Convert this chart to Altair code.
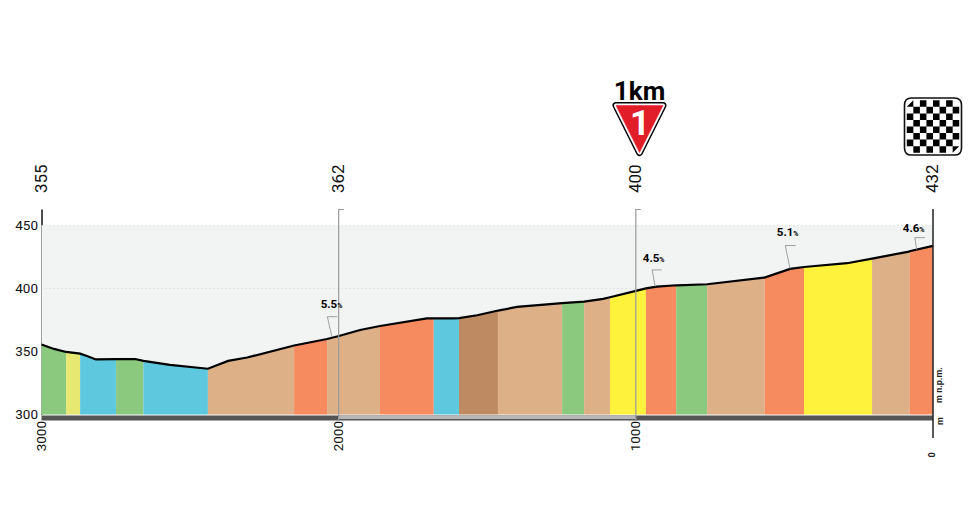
import altair as alt
import pandas as pd

FONT = "Roboto"

# Elevation profile
profile_d = [3000, 2958, 2917, 2870, 2847, 2817, 2749, 2685, 2657, 2568, 2440, 2372, 2308, 2150, 2039, 1999,
             1928, 1861, 1703, 1680, 1615, 1595, 1534, 1467, 1464, 1400, 1248, 1174, 1110, 1087, 996, 966, 929,
             864, 861, 760, 569, 567, 481, 434, 289, 205, 81, 79, 0]
profile_e = [355.5, 352, 349.6, 348.3, 346.4, 343.7, 344, 344, 342.5, 339.3, 336.3, 342.5, 345.2, 354.7, 359.9, 362.3,
             367, 370.2, 376.3, 376.3, 376.3, 376.5, 378.7, 382.3, 382.4, 385.3, 388.3, 389.5, 391.7, 393, 398.3, 400, 401.4,
             402.5, 402.5, 403.3, 408.6, 408.6, 415.5, 417, 420, 423.7, 429.2, 429.5, 433.7]

# Gradient segments (start distance, end distance, colour)
seg_start = [3000, 2917, 2870, 2749, 2657, 2440, 2150, 2039, 1861, 1680, 1595, 1464, 1248, 1174, 1087, 966, 864, 760, 567, 434, 205, 79]
seg_end = [2917, 2870, 2749, 2657, 2440, 2150, 2039, 1861, 1680, 1595, 1464, 1248, 1174, 1087, 966, 864, 760, 567, 434, 205, 79, 0]
seg_color = ["#8bc97f", "#e6e871", "#5ec8df", "#8bc97f", "#5ec8df", "#deb087", "#f68b5f", "#deb087", "#f68b5f", "#5ec8df",
             "#bd8a62", "#deb087", "#8bc97f", "#deb087", "#fff23c", "#f68b5f", "#8bc97f", "#deb087", "#f68b5f", "#fff23c",
             "#deb087", "#f68b5f"]

# Labels
y_ticks = [300, 350, 400, 450]
x_ticks = [3000, 2000, 1000]
top_d = [3000, 2000, 1000, 0]
top_label = ["355", "362", "400", "432"]
grade_d = [2005, 921, 470, 46]
grade_e = [386.9, 423.2, 443.8, 447.2]
grade_label = ["5.5", "4.5", "5.1", "4.6"]
leader_id = [0, 0, 0, 1, 1, 1, 2, 2, 2, 3, 3, 3]
leader_d = [2005, 2038, 2023, 913, 945, 935, 462, 497, 481, 27, 61, 55]
leader_e = [377.6, 377.6, 361.7, 414.7, 414.7, 401.4, 434, 434, 415.5, 440.3, 440.3, 430.6]

prof_df = pd.DataFrame({"d": profile_d, "e": profile_e})

xs = alt.Scale(domain=[3000, 0], nice=False)
ys = alt.Scale(domain=[300, 463], nice=False)
x_axis = alt.Axis(values=x_ticks, labelAngle=270, labelAlign="right", labelBaseline="middle",
                  labelFont=FONT, labelFontSize=13.5, labelColor="#111", labelPadding=6,
                  ticks=False, domain=False, grid=False, title=None, format="d", labelFlush=False,
                  labelOverlap=False)
y_axis = alt.Axis(values=y_ticks, labelFont=FONT, labelFontSize=13.5, labelColor="#111",
                  labelPadding=4, ticks=False, domainColor="#111", domainWidth=1.5,
                  grid=False, title=None)
X = lambda f="d": alt.X(f"{f}:Q", scale=xs, axis=x_axis)
Y = lambda f="e": alt.Y(f"{f}:Q", scale=ys, axis=y_axis)

H = 205.5

bg = alt.Chart(pd.DataFrame({"a": [3000], "b": [0], "y0": [300], "y1": [450]})).mark_rect(color="#f2f3f3").encode(
    x=X("a"), x2="b:Q", y=Y("y0"), y2="y1:Q")
grid = alt.Chart(pd.DataFrame({"y": [450, 400], "a": [3000, 3000], "b": [0, 0]})).mark_rule(
    color="#cfcfcf", strokeDash=[1, 3], strokeWidth=1).encode(x=X("a"), x2="b:Q", y=Y("y"))

areas = []
for a, b, c in zip(seg_start, seg_end, seg_color):
    pts = [(d, e) for d, e in zip(profile_d, profile_e) if b <= d <= a]
    seg = pd.DataFrame({"d": [p[0] for p in pts], "e": [p[1] for p in pts], "base": [300] * len(pts)})
    areas.append(alt.Chart(seg).mark_area(color=c, interpolate="linear", orient="vertical", opacity=1).encode(
        x=X(), y=alt.Y("e:Q", scale=ys, axis=y_axis, stack=None), y2="base:Q"))

line = alt.Chart(prof_df).mark_line(color="#000", strokeWidth=2.2, interpolate="linear").encode(x=X(), y=Y(), order="d:Q")

band = alt.Chart(pd.DataFrame({"a": [3000], "b": [0]})).mark_rect(color="#555").encode(
    x=X("a"), x2="b:Q", y=alt.value(H + 1), y2=alt.value(H + 6))
band_mid = alt.Chart(pd.DataFrame({"a": [2000], "b": [1000]})).mark_rect(color="#b8b8b8").encode(
    x=X("a"), x2="b:Q", y=alt.value(H + 1), y2=alt.value(H + 4.5))
vrules = alt.Chart(pd.DataFrame({"a": [2000, 1000]})).mark_rule(color="#9a9a9a", strokeWidth=1.2).encode(
    x=X("a"), y=alt.value(0), y2=alt.value(H + 6))
vticks = alt.Chart(pd.DataFrame({"a": [2000, 1000], "b": [1983, 983]})).mark_rule(color="#9a9a9a", strokeWidth=1).encode(
    x=X("a"), x2="b:Q", y=alt.value(0.5))
right = alt.Chart(pd.DataFrame({"a": [0]})).mark_rule(color="#222", strokeWidth=1.5).encode(
    x=X("a"), y=alt.value(0), y2=alt.value(229))

top = alt.Chart(pd.DataFrame({"d": top_d, "t": top_label})).mark_text(
    font=FONT, fontSize=17, angle=270, align="left", baseline="middle", color="#111").encode(
    x=X(), y=alt.value(-16), text="t:N")
g_num = alt.Chart(pd.DataFrame({"d": grade_d, "e": grade_e, "t": grade_label})).mark_text(
    font=FONT, fontSize=11.5, fontWeight="bold", align="right", baseline="middle", color="#000").encode(
    x=X(), y=Y(), text="t:N")
g_pct = alt.Chart(pd.DataFrame({"d": grade_d, "e": grade_e, "t": ["%"] * 4})).mark_text(
    font=FONT, fontSize=7, fontWeight="bold", align="left", baseline="middle", color="#000", dy=1).encode(
    x=X(), y=Y(), text="t:N")
leaders = alt.Chart(pd.DataFrame({"d": leader_d, "e": leader_e, "id": leader_id, "o": list(range(12))})).mark_line(
    color="#8a8a8a", strokeWidth=0.8).encode(x=X(), y=Y(), detail="id:N", order="o:Q")

notes = alt.Chart(pd.DataFrame({"px": [897.5, 898, 890.5], "py": [176, 212, 246], "t": ["m n.p.m.", "m", "0"]})).mark_text(
    font=FONT, fontSize=9, fontWeight="bold", angle=270, align="center", baseline="middle", color="#222").encode(
    x=alt.X("px:Q", scale=None), y=alt.Y("py:Q", scale=None), text="t:N")

# Icons: 1 km triangle
tri = "M-1,-1 L1,-1 L0,1 Z"
icon_x, icon_y = 598, -80
def tri_mark(fill, stroke, sw):
    return alt.Chart(pd.DataFrame({"k": [0]})).mark_point(
        shape=tri, size=2209, filled=True, fill=fill, stroke=stroke, strokeWidth=sw, strokeJoin="round", opacity=1
    ).encode(x=alt.value(icon_x), y=alt.value(icon_y))
icons = [tri_mark("#000", "#000", 7), tri_mark("#fff", "#fff", 4), tri_mark("#e11d2a", "#e11d2a", 0.5)]
km = alt.Chart(pd.DataFrame({"t": ["1km"]})).mark_text(
    font=FONT, fontSize=26, fontWeight="bold", align="center", baseline="alphabetic", color="#000").encode(
    x=alt.value(598), y=alt.value(-109.5), text="t:N")
one = alt.Chart(pd.DataFrame({"t": ["1"]})).mark_text(
    font=FONT, fontSize=35, fontWeight="bold", align="center", baseline="alphabetic", color="#fff").encode(
    x=alt.value(598.5), y=alt.value(-74), text="t:N")

# Icons: finish flag
N = 8
def cell_path():
    step = 1.84 / N
    parts = []
    for r in range(N):
        for c in range(N):
            if (r + c) % 2:
                continue
            x0, y0 = -0.92 + c * step, -0.92 + r * step
            x1, y1 = x0 + step, y0 + step
            if (r, c) == (0, 0):
                parts.append(f"M{x1:.3f},{y0:.3f} L{x1:.3f},{y1:.3f} L{x0:.3f},{y1:.3f} Z")
            elif (r, c) == (N - 1, N - 1):
                parts.append(f"M{x0:.3f},{y0:.3f} L{x1:.3f},{y0:.3f} L{x0:.3f},{y1:.3f} Z")
            else:
                parts.append(f"M{x0:.3f},{y0:.3f} L{x1:.3f},{y0:.3f} L{x1:.3f},{y1:.3f} L{x0:.3f},{y1:.3f} Z")
    return " ".join(parts)
rounded = "M-0.75,-1 L0.75,-1 Q1,-1 1,-0.75 L1,0.75 Q1,1 0.75,1 L-0.75,1 Q-1,1 -1,0.75 L-1,-0.75 Q-1,-1 -0.75,-1 Z"
flag_x, flag_y = 891.5, -82.5
flag_box = alt.Chart(pd.DataFrame({"k": [0]})).mark_point(
    shape=rounded, size=3249, filled=True, fill="#fff", stroke="#111", strokeWidth=1.6, opacity=1
).encode(x=alt.value(flag_x), y=alt.value(flag_y))
flag_cells = alt.Chart(pd.DataFrame({"k": [0]})).mark_point(
    shape=cell_path(), size=3249, filled=True, fill="#000", strokeWidth=0, opacity=1
).encode(x=alt.value(flag_x), y=alt.value(flag_y))

chart = alt.layer(
    bg, grid, *areas, band, band_mid, line, vrules, vticks, right, leaders, g_num, g_pct, top, notes,
    *icons, km, one, flag_box, flag_cells
).properties(
    width=891.5, height=H, autosize="none",
    padding={"left": 33.5, "top": 201, "right": 30, "bottom": 100},
).configure_view(stroke=None)

chart.save("out.html", embed_options={"renderer": "svg", "actions": False})
